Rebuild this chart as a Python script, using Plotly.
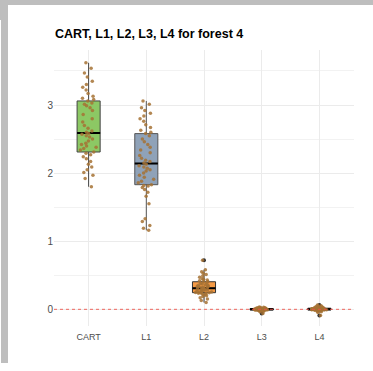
import numpy as np
import plotly.graph_objects as go

# Model names and the error values of the 50 runs for each model
models = ["CART", "L1", "L2", "L3", "L4"]

cart = [1.80, 1.92, 1.97, 2.01, 2.05, 2.09, 2.13, 2.17, 2.21, 2.24,
        2.27, 2.29, 2.31, 2.34, 2.36, 2.38, 2.40, 2.42, 2.44, 2.47,
        2.50, 2.53, 2.55, 2.57, 2.58, 2.60, 2.62, 2.66, 2.70, 2.75,
        2.80, 2.86, 2.92, 2.96, 2.99, 3.01, 3.03, 3.06, 3.08, 3.10,
        3.13, 3.17, 3.22, 3.26, 3.30, 3.35, 3.41, 3.47, 3.54, 3.62]

l1 = [1.16, 1.19, 1.23, 1.29, 1.33, 1.55, 1.66, 1.72, 1.76, 1.79,
      1.81, 1.82, 1.83, 1.86, 1.88, 1.91, 1.94, 1.97, 2.00, 2.03,
      2.05, 2.07, 2.09, 2.11, 2.13, 2.15, 2.17, 2.19, 2.22, 2.26,
      2.30, 2.34, 2.38, 2.42, 2.46, 2.50, 2.55, 2.58, 2.60, 2.63,
      2.67, 2.71, 2.76, 2.80, 2.84, 2.88, 2.92, 2.96, 3.01, 3.06]

l2 = [0.10, 0.13, 0.15, 0.17, 0.19, 0.20, 0.21, 0.22, 0.23, 0.235,
      0.24, 0.242, 0.244, 0.248, 0.25, 0.255, 0.26, 0.27, 0.275, 0.28,
      0.285, 0.29, 0.295, 0.30, 0.305, 0.315, 0.32, 0.325, 0.33, 0.335,
      0.34, 0.35, 0.355, 0.36, 0.37, 0.38, 0.39, 0.405, 0.41, 0.42,
      0.43, 0.44, 0.45, 0.47, 0.49, 0.51, 0.53, 0.55, 0.58, 0.72]

l3 = [-0.060, -0.035, -0.028, -0.024, -0.021, -0.019, -0.017, -0.015, -0.014, -0.013,
      -0.012, -0.011, -0.010, -0.009, -0.008, -0.007, -0.006, -0.005, -0.004, -0.003,
      -0.002, -0.002, -0.001, -0.001, 0.000, 0.000, 0.001, 0.001, 0.002, 0.003,
      0.004, 0.005, 0.006, 0.007, 0.008, 0.009, 0.010, 0.011, 0.012, 0.013,
      0.014, 0.015, 0.016, 0.018, 0.020, 0.022, 0.024, 0.027, 0.030, 0.034]

l4 = [-0.090, -0.045, -0.034, -0.028, -0.024, -0.021, -0.018, -0.016, -0.014, -0.012,
      -0.011, -0.010, -0.009, -0.008, -0.007, -0.006, -0.005, -0.004, -0.003, -0.002,
      -0.001, 0.000, 0.000, 0.001, 0.002, 0.003, 0.004, 0.005, 0.006, 0.007,
      0.008, 0.009, 0.010, 0.011, 0.012, 0.013, 0.014, 0.016, 0.018, 0.020,
      0.022, 0.024, 0.026, 0.029, 0.032, 0.036, 0.040, 0.046, 0.053, 0.062]

series = [cart, l1, l2, l3, l4]
box_fill = ["#8CC864", "#8FA2B8", "#F59A45", "#E41A1C", "#E41A1C"]
box_line = ["#444444", "#555555", "#333333", "#111111", "#111111"]

FONT = "Liberation Sans, Arial, sans-serif"

fig = go.Figure()

# Boxplots with outliers marked in dark grey
for name, vals, fill, line in zip(models, series, box_fill, box_line):
    fig.add_trace(go.Box(
        x=[name] * len(vals), y=vals, name=name,
        fillcolor=fill, line=dict(color=line, width=1),
        whiskerwidth=0, boxpoints="outliers", quartilemethod="linear",
        marker=dict(color="#333333", size=4),
        showlegend=False, hoverinfo="skip",
    ))

# Heavier median bar for each box
for name, vals in zip(models, series):
    med = float(np.median(vals))
    fig.add_trace(go.Box(
        x=[name], q1=[med], median=[med], q3=[med],
        lowerfence=[med], upperfence=[med],
        fillcolor="rgba(0,0,0,0)", line=dict(color="black", width=2),
        whiskerwidth=0, showlegend=False, hoverinfo="skip",
    ))

# Jittered raw points on top of the boxes
for name, vals in zip(models, series):
    fig.add_trace(go.Box(
        x=[name] * len(vals), y=vals, name=name,
        fillcolor="rgba(0,0,0,0)", line=dict(color="rgba(0,0,0,0)", width=0),
        boxpoints="all", jitter=0.75, pointpos=0, whiskerwidth=0,
        marker=dict(color="rgba(166,114,52,0.85)", size=3.5),
        showlegend=False, hoverinfo="skip",
    ))

W, H = 373, 371
L, R, T, B = 54, 19, 50, 45
pw, ph = W - L - R, H - T - B


def px_x(p):
    return (p - L) / pw


def px_y(p):
    return (H - B - p) / ph


border = "#BEBEBE"
shapes = [
    # reference line at zero
    dict(type="line", xref="paper", yref="y", x0=0, x1=1, y0=0, y1=0,
         line=dict(color="rgba(240,80,70,0.85)", width=1, dash="dot")),
    # frame strips around the figure
    dict(type="rect", xref="paper", yref="paper", x0=px_x(0), x1=px_x(W),
         y0=px_y(5), y1=px_y(0), fillcolor=border, line=dict(width=0)),
    dict(type="rect", xref="paper", yref="paper", x0=px_x(0), x1=px_x(8),
         y0=px_y(20), y1=px_y(0), fillcolor=border, line=dict(width=0)),
    dict(type="rect", xref="paper", yref="paper", x0=px_x(1), x1=px_x(8),
         y0=px_y(363), y1=px_y(20), fillcolor=border, line=dict(width=0)),
]

fig.update_layout(
    width=W, height=H,
    margin=dict(l=L, r=R, t=T, b=B),
    paper_bgcolor="white", plot_bgcolor="white",
    boxmode="overlay", boxgap=0.6, boxgroupgap=0,
    title=dict(text="<b>CART, L1, L2, L3, L4 for forest 4</b>",
               x=px_x(55), xref="paper", xanchor="left",
               y=1 - 34 / H, yanchor="middle",
               font=dict(family=FONT, size=12.5, color="black")),
    font=dict(family=FONT, size=9, color="#4D4D4D"),
    shapes=shapes,
    xaxis=dict(type="category", categoryorder="array", categoryarray=models,
               range=[-0.6, 4.6], showgrid=True, gridcolor="#EBEBEB", gridwidth=1,
               zeroline=False, showline=False, ticks="", ticklabelstandoff=4,
               tickfont=dict(family=FONT, size=9, color="#4D4D4D")),
    yaxis=dict(range=[-0.245, 3.808], tickvals=[0, 1, 2, 3],
               showgrid=True, gridcolor="#EBEBEB", gridwidth=1,
               minor=dict(tickvals=[0.5, 1.5, 2.5, 3.5], showgrid=True,
                          gridcolor="#F2F2F2", gridwidth=1),
               zeroline=False, showline=False, ticks="",
               tickfont=dict(family=FONT, size=10, color="#4D4D4D")),
)

fig.write_html("out.html")
